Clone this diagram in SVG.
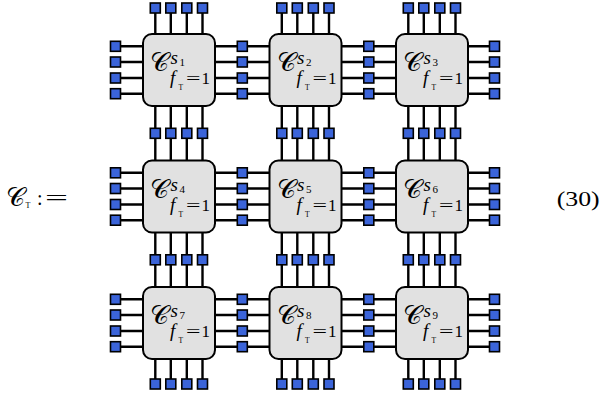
<svg xmlns="http://www.w3.org/2000/svg" width="602" height="399" viewBox="0 0 602 399">
<defs>
<style>
.w{stroke:#000;stroke-width:2.4;fill:none}
.box{fill:#e1e1e1;stroke:#000;stroke-width:2}
.pin{fill:#3b64d9;stroke:#000;stroke-width:1.6}
.m{font-family:"Liberation Serif",serif;fill:#000}
.c{font-family:"DejaVu Sans","DejaVu Serif",serif;font-size:26px}
.i{font-style:italic}
</style>
<rect id="p" class="pin" x="-5" y="-5" width="10" height="10"/>
</defs>
<rect width="602" height="399" fill="#fff"/>
<g id="connectors">
<path class="w" d="M155.3 8V384M170.8 8V384M186.8 8V384M202.5 8V384M281.8 8V384M297.3 8V384M313.3 8V384M329 8V384M408.3 8V384M423.8 8V384M439.8 8V384M455.5 8V384"/>
<path class="w" d="M115.5 46.3H494.5M115.5 62H494.5M115.5 78H494.5M115.5 93.7H494.5M115.5 172.8H494.5M115.5 188.5H494.5M115.5 204.5H494.5M115.5 220.2H494.5M115.5 299.3H494.5M115.5 315H494.5M115.5 331H494.5M115.5 346.7H494.5"/>
</g>
<g id="s1"><rect class="box" x="143" y="34" width="72" height="72" rx="9"/>
<text class="m"><tspan class="c" x="150" y="71">𝒞</tspan><tspan class="i" x="170.5" y="64" font-size="19">s</tspan><tspan x="179.5" y="66" font-size="11">1</tspan><tspan class="i" x="170" y="84" font-size="19">f</tspan><tspan x="178.5" y="90" font-size="7.5">T</tspan><tspan x="186" y="84" font-size="17" textLength="14.5" lengthAdjust="spacingAndGlyphs">=</tspan><tspan x="201.5" y="84" font-size="17">1</tspan></text></g>
<g id="s2"><rect class="box" x="269.5" y="34" width="72" height="72" rx="9"/>
<text class="m"><tspan class="c" x="276.5" y="71">𝒞</tspan><tspan class="i" x="297" y="64" font-size="19">s</tspan><tspan x="306" y="66" font-size="11">2</tspan><tspan class="i" x="296.5" y="84" font-size="19">f</tspan><tspan x="305" y="90" font-size="7.5">T</tspan><tspan x="312.5" y="84" font-size="17" textLength="14.5" lengthAdjust="spacingAndGlyphs">=</tspan><tspan x="328" y="84" font-size="17">1</tspan></text></g>
<g id="s3"><rect class="box" x="396" y="34" width="72" height="72" rx="9"/>
<text class="m"><tspan class="c" x="403" y="71">𝒞</tspan><tspan class="i" x="423.5" y="64" font-size="19">s</tspan><tspan x="432.5" y="66" font-size="11">3</tspan><tspan class="i" x="423" y="84" font-size="19">f</tspan><tspan x="431.5" y="90" font-size="7.5">T</tspan><tspan x="439" y="84" font-size="17" textLength="14.5" lengthAdjust="spacingAndGlyphs">=</tspan><tspan x="454.5" y="84" font-size="17">1</tspan></text></g>
<g id="s4"><rect class="box" x="143" y="160.5" width="72" height="72" rx="9"/>
<text class="m"><tspan class="c" x="150" y="197.5">𝒞</tspan><tspan class="i" x="170.5" y="190.5" font-size="19">s</tspan><tspan x="179.5" y="192.5" font-size="11">4</tspan><tspan class="i" x="170" y="210.5" font-size="19">f</tspan><tspan x="178.5" y="216.5" font-size="7.5">T</tspan><tspan x="186" y="210.5" font-size="17" textLength="14.5" lengthAdjust="spacingAndGlyphs">=</tspan><tspan x="201.5" y="210.5" font-size="17">1</tspan></text></g>
<g id="s5"><rect class="box" x="269.5" y="160.5" width="72" height="72" rx="9"/>
<text class="m"><tspan class="c" x="276.5" y="197.5">𝒞</tspan><tspan class="i" x="297" y="190.5" font-size="19">s</tspan><tspan x="306" y="192.5" font-size="11">5</tspan><tspan class="i" x="296.5" y="210.5" font-size="19">f</tspan><tspan x="305" y="216.5" font-size="7.5">T</tspan><tspan x="312.5" y="210.5" font-size="17" textLength="14.5" lengthAdjust="spacingAndGlyphs">=</tspan><tspan x="328" y="210.5" font-size="17">1</tspan></text></g>
<g id="s6"><rect class="box" x="396" y="160.5" width="72" height="72" rx="9"/>
<text class="m"><tspan class="c" x="403" y="197.5">𝒞</tspan><tspan class="i" x="423.5" y="190.5" font-size="19">s</tspan><tspan x="432.5" y="192.5" font-size="11">6</tspan><tspan class="i" x="423" y="210.5" font-size="19">f</tspan><tspan x="431.5" y="216.5" font-size="7.5">T</tspan><tspan x="439" y="210.5" font-size="17" textLength="14.5" lengthAdjust="spacingAndGlyphs">=</tspan><tspan x="454.5" y="210.5" font-size="17">1</tspan></text></g>
<g id="s7"><rect class="box" x="143" y="287" width="72" height="72" rx="9"/>
<text class="m"><tspan class="c" x="150" y="324">𝒞</tspan><tspan class="i" x="170.5" y="317" font-size="19">s</tspan><tspan x="179.5" y="319" font-size="11">7</tspan><tspan class="i" x="170" y="337" font-size="19">f</tspan><tspan x="178.5" y="343" font-size="7.5">T</tspan><tspan x="186" y="337" font-size="17" textLength="14.5" lengthAdjust="spacingAndGlyphs">=</tspan><tspan x="201.5" y="337" font-size="17">1</tspan></text></g>
<g id="s8"><rect class="box" x="269.5" y="287" width="72" height="72" rx="9"/>
<text class="m"><tspan class="c" x="276.5" y="324">𝒞</tspan><tspan class="i" x="297" y="317" font-size="19">s</tspan><tspan x="306" y="319" font-size="11">8</tspan><tspan class="i" x="296.5" y="337" font-size="19">f</tspan><tspan x="305" y="343" font-size="7.5">T</tspan><tspan x="312.5" y="337" font-size="17" textLength="14.5" lengthAdjust="spacingAndGlyphs">=</tspan><tspan x="328" y="337" font-size="17">1</tspan></text></g>
<g id="s9"><rect class="box" x="396" y="287" width="72" height="72" rx="9"/>
<text class="m"><tspan class="c" x="403" y="324">𝒞</tspan><tspan class="i" x="423.5" y="317" font-size="19">s</tspan><tspan x="432.5" y="319" font-size="11">9</tspan><tspan class="i" x="423" y="337" font-size="19">f</tspan><tspan x="431.5" y="343" font-size="7.5">T</tspan><tspan x="439" y="337" font-size="17" textLength="14.5" lengthAdjust="spacingAndGlyphs">=</tspan><tspan x="454.5" y="337" font-size="17">1</tspan></text></g>
<g id="pins">
<use href="#p" x="155.3" y="8"/><use href="#p" x="170.8" y="8"/><use href="#p" x="186.8" y="8"/><use href="#p" x="202.5" y="8"/>
<use href="#p" x="281.8" y="8"/><use href="#p" x="297.3" y="8"/><use href="#p" x="313.3" y="8"/><use href="#p" x="329" y="8"/>
<use href="#p" x="408.3" y="8"/><use href="#p" x="423.8" y="8"/><use href="#p" x="439.8" y="8"/><use href="#p" x="455.5" y="8"/>
<use href="#p" x="155.3" y="133.3"/><use href="#p" x="170.8" y="133.3"/><use href="#p" x="186.8" y="133.3"/><use href="#p" x="202.5" y="133.3"/>
<use href="#p" x="281.8" y="133.3"/><use href="#p" x="297.3" y="133.3"/><use href="#p" x="313.3" y="133.3"/><use href="#p" x="329" y="133.3"/>
<use href="#p" x="408.3" y="133.3"/><use href="#p" x="423.8" y="133.3"/><use href="#p" x="439.8" y="133.3"/><use href="#p" x="455.5" y="133.3"/>
<use href="#p" x="155.3" y="259.8"/><use href="#p" x="170.8" y="259.8"/><use href="#p" x="186.8" y="259.8"/><use href="#p" x="202.5" y="259.8"/>
<use href="#p" x="281.8" y="259.8"/><use href="#p" x="297.3" y="259.8"/><use href="#p" x="313.3" y="259.8"/><use href="#p" x="329" y="259.8"/>
<use href="#p" x="408.3" y="259.8"/><use href="#p" x="423.8" y="259.8"/><use href="#p" x="439.8" y="259.8"/><use href="#p" x="455.5" y="259.8"/>
<use href="#p" x="155.3" y="384"/><use href="#p" x="170.8" y="384"/><use href="#p" x="186.8" y="384"/><use href="#p" x="202.5" y="384"/>
<use href="#p" x="281.8" y="384"/><use href="#p" x="297.3" y="384"/><use href="#p" x="313.3" y="384"/><use href="#p" x="329" y="384"/>
<use href="#p" x="408.3" y="384"/><use href="#p" x="423.8" y="384"/><use href="#p" x="439.8" y="384"/><use href="#p" x="455.5" y="384"/>
<use href="#p" x="115.5" y="46.3"/><use href="#p" x="115.5" y="62"/><use href="#p" x="115.5" y="78"/><use href="#p" x="115.5" y="93.7"/>
<use href="#p" x="115.5" y="172.8"/><use href="#p" x="115.5" y="188.5"/><use href="#p" x="115.5" y="204.5"/><use href="#p" x="115.5" y="220.2"/>
<use href="#p" x="115.5" y="299.3"/><use href="#p" x="115.5" y="315"/><use href="#p" x="115.5" y="331"/><use href="#p" x="115.5" y="346.7"/>
<use href="#p" x="242.3" y="46.3"/><use href="#p" x="242.3" y="62"/><use href="#p" x="242.3" y="78"/><use href="#p" x="242.3" y="93.7"/>
<use href="#p" x="242.3" y="172.8"/><use href="#p" x="242.3" y="188.5"/><use href="#p" x="242.3" y="204.5"/><use href="#p" x="242.3" y="220.2"/>
<use href="#p" x="242.3" y="299.3"/><use href="#p" x="242.3" y="315"/><use href="#p" x="242.3" y="331"/><use href="#p" x="242.3" y="346.7"/>
<use href="#p" x="368.8" y="46.3"/><use href="#p" x="368.8" y="62"/><use href="#p" x="368.8" y="78"/><use href="#p" x="368.8" y="93.7"/>
<use href="#p" x="368.8" y="172.8"/><use href="#p" x="368.8" y="188.5"/><use href="#p" x="368.8" y="204.5"/><use href="#p" x="368.8" y="220.2"/>
<use href="#p" x="368.8" y="299.3"/><use href="#p" x="368.8" y="315"/><use href="#p" x="368.8" y="331"/><use href="#p" x="368.8" y="346.7"/>
<use href="#p" x="494.5" y="46.3"/><use href="#p" x="494.5" y="62"/><use href="#p" x="494.5" y="78"/><use href="#p" x="494.5" y="93.7"/>
<use href="#p" x="494.5" y="172.8"/><use href="#p" x="494.5" y="188.5"/><use href="#p" x="494.5" y="204.5"/><use href="#p" x="494.5" y="220.2"/>
<use href="#p" x="494.5" y="299.3"/><use href="#p" x="494.5" y="315"/><use href="#p" x="494.5" y="331"/><use href="#p" x="494.5" y="346.7"/>
</g>
<g id="label">
<text class="m"><tspan class="c" x="5.5" y="206">𝒞</tspan><tspan x="25.5" y="208.3" font-size="8">T</tspan><tspan x="37" y="205" font-size="20">:</tspan><tspan x="45" y="205" font-size="20" textLength="23" lengthAdjust="spacingAndGlyphs">=</tspan></text>
</g>
<g id="eqnum"><text class="m" x="556.7" y="205.7" font-size="22" textLength="43" lengthAdjust="spacingAndGlyphs">(30)</text></g>
</svg>
